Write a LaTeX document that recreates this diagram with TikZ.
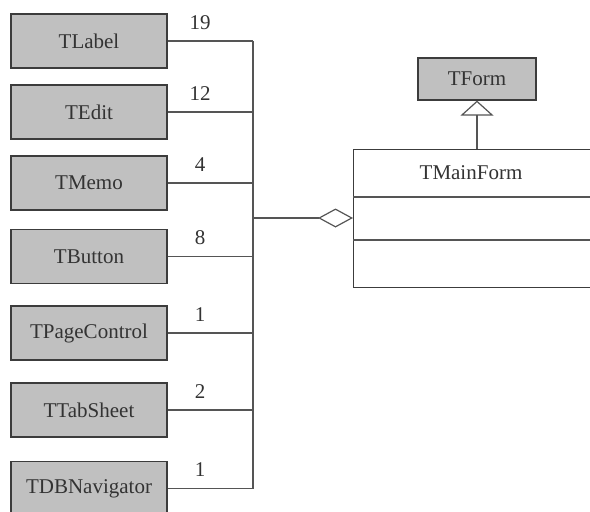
\documentclass[tikz,border=0pt]{standalone}
\usepackage{fontspec}
\setmainfont{Liberation Serif}
\usetikzlibrary{arrows.meta,positioning}
\definecolor{boxgray}{HTML}{C0C0C0}
\definecolor{edgegray}{HTML}{3C3C3C}
\definecolor{textgray}{HTML}{333333}
\definecolor{linegray}{HTML}{555555}

\begin{document}
\begin{tikzpicture}[
    x=1pt, y=-1pt,
    font=\fontsize{21}{25}\selectfont, text=textgray,
    cls/.style={draw=edgegray, line width=1.6pt, fill=boxgray, minimum width=156pt, minimum height=54pt, inner sep=0pt},
    conn/.style={draw=linegray, line width=1.2pt},
    num/.style={above=9pt, pos=0.38, inner sep=2pt}
]
\useasboundingbox (0,0) rectangle (590,512);
\clip (0,0) rectangle (590,512);
% component classes on the left
\node[cls] (tlabel) at (89,41) {TLabel};
\node[cls] (tedit) at (89,112) {TEdit};
\node[cls] (tmemo) at (89,183) {TMemo};
\node[cls] (tbutton) at (89,256.5) {TButton};
\node[cls] (tpage) at (89,333) {TPageControl};
\node[cls] (ttab) at (89,410) {TTabSheet};
\node[cls] (tdbnav) at (89,488.5) {TDBNavigator};
\coordinate (bus) at (253,218);
% form classes on the right
\node[cls, minimum width=118pt, minimum height=42pt, line width=1.2pt] (tform) at (477,79) {TForm};
\node[draw=edgegray, line width=1.2pt, anchor=north west, minimum width=280pt, minimum height=138pt, inner sep=0pt] (mainform) at (353,149) {};
\node (mainname) at (471,173) {TMainForm};
\draw[conn] (353,197) -- (633,197);
\draw[conn] (353,240) -- (633,240);
% links
\draw[conn] (tlabel.east) -- node[num]{19} (tlabel.east -| bus);
\draw[conn] (tedit.east) -- node[num]{12} (tedit.east -| bus);
\draw[conn] (tmemo.east) -- node[num]{4} (tmemo.east -| bus);
\draw[conn] (tbutton.east) -- node[num]{8} (tbutton.east -| bus);
\draw[conn] (tpage.east) -- node[num]{1} (tpage.east -| bus);
\draw[conn] (ttab.east) -- node[num]{2} (ttab.east -| bus);
\draw[conn] (tdbnav.east) -- node[num]{1} (tdbnav.east -| bus);
\draw[conn] (tlabel.east -| bus) -- (tdbnav.east -| bus);
\draw[conn, -{Diamond[open, length=35pt, width=19pt]}] (bus) -- (bus -| mainform.west);
\draw[conn, -{Triangle[open, length=15pt, width=33pt]}] (mainform.north -| tform.south) -- (tform.south);
\end{tikzpicture}
\end{document}
